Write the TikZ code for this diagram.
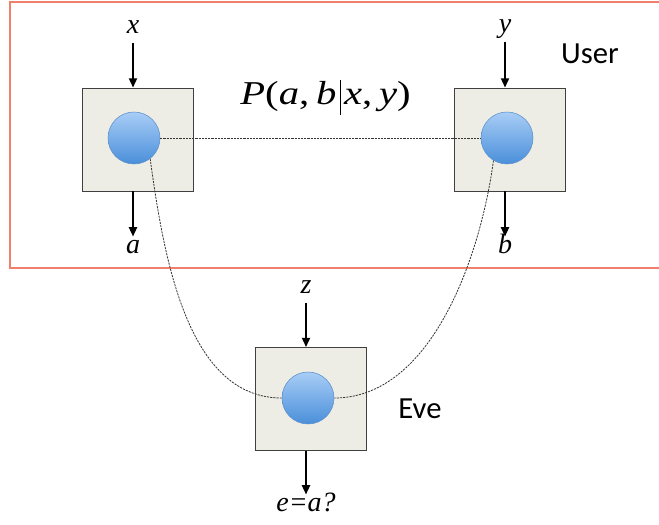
\documentclass[tikz,border=0pt]{standalone}
\usepackage{fontspec}
\usepackage{graphicx}
\setmainfont{Liberation Serif}
\newfontfamily\labelfont{Carlito}
\usetikzlibrary{arrows.meta,positioning}
\definecolor{boxfill}{HTML}{EEEDE5}
\definecolor{ballhi}{HTML}{A8CDF6}
\definecolor{balllo}{HTML}{4A8FDA}
\definecolor{ballrim}{HTML}{5B8FCB}
\definecolor{userred}{HTML}{F0806C}
\newcommand{\condbar}{\kern2pt\rule[-0.3em]{0.7pt}{1.06em}\kern2pt}

\begin{document}
\begin{tikzpicture}[
  x=0.75pt, y=-0.75pt,
  device/.style={draw=black!75, fill=boxfill, line width=0.6pt, minimum width=83.25pt, minimum height=77.25pt, inner sep=0pt},
  ball/.style={circle, draw=ballrim, line width=0.4pt, top color=ballhi, bottom color=balllo, minimum size=39pt, inner sep=0pt},
  io/.style={font=\fontsize{21}{24}\selectfont\itshape, inner sep=0pt, text height=1.4ex, text depth=0.3ex},
  party/.style={font=\labelfont\fontsize{23}{26}\selectfont, inner sep=0pt},
  arr/.style={-{Triangle[length=7pt,width=6pt]}, line width=1.5pt},
  link/.style={dash pattern=on 1.6pt off 0.8pt, line width=0.6pt, black!80}
]
\useasboundingbox (0,0) rectangle (659,524);
% user region
\draw[userred, line width=1.2pt] (10,2) rectangle (680,268);
\node[party] (user) at (590,54) {User};
\node[font=\fontsize{25}{28}\selectfont, inner sep=0pt, anchor=base] (prob) at (325.5,105)
  {\scalebox{1.22}[1]{\textit{P}(\textit{a},\,\textit{b}\condbar\textit{x},\,\textit{y})}};

% devices
\node[device] (boxA) at (137.5,139.5) {};
\node[device] (boxB) at (509.5,139.5) {};
\node[device] (boxE) at (310.5,399) {};
\node[ball] (ballA) at (134,138) {};
\node[ball] (ballB) at (507,138) {};
\node[ball] (ballE) at (308,398) {};
\node[party] (eve) at (420,409) {Eve};

% inputs and outputs
\node[io] (inX) at (133,30) {x};
\node[io] (inY) at (505,29) {y};
\node[io] (inZ) at (306,290) {z};
\node[io] (outA) at (133,250) {a};
\node[io] (outB) at (505,250) {b};
\node[io] (outE) at (306,508) {e=a?};
\draw[arr, shorten <=6pt] (inX) -- (inX|-boxA.north);
\draw[arr, shorten <=6pt] (inY) -- (inY|-boxB.north);
\draw[arr, shorten <=6pt] (inZ) -- (inZ|-boxE.north);
\draw[arr, shorten >=6pt] (outA|-boxA.south) -- (outA);
\draw[arr, shorten >=6pt] (outB|-boxB.south) -- (outB);
\draw[arr, shorten >=6pt] (outE|-boxE.south) -- (outE);

% correlations
\draw[link] (ballA.east) -- (ballB.west);
\draw[link] (ballA.-52) .. controls (164,260) and (188,398) .. (ballE.west);
\draw[link] (ballB.-121) .. controls (480,260) and (430,398) .. (ballE.east);
\end{tikzpicture}
\end{document}
